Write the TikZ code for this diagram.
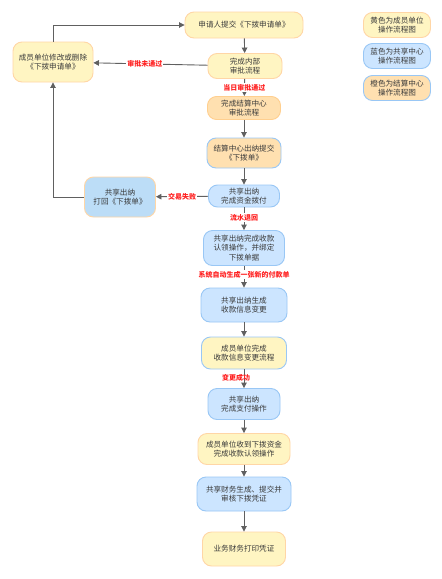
\documentclass[tikz,border=0pt]{standalone}
\usepackage{fontspec}
\newfontfamily\cjk{Noto Sans CJK SC}
\usetikzlibrary{arrows.meta}
\definecolor{yfill}{HTML}{FFF5C2}
\definecolor{ydraw}{HTML}{FFD6A6}
\definecolor{bfill}{HTML}{CCE5FF}
\definecolor{bdraw}{HTML}{99C7F5}
\definecolor{ofill}{HTML}{FFE0B0}
\definecolor{odraw}{HTML}{FFCF8F}
\definecolor{b2fill}{HTML}{BCDDF7}
\definecolor{lc}{HTML}{606060}
\definecolor{tc}{HTML}{3A3A3A}
\definecolor{rc}{HTML}{FF2020}
\tikzset{
  box/.style={rounded corners=9pt, line width=0.9pt, align=center, inner sep=0pt,
    font=\cjk\fontsize{7.6}{9.6}\selectfont, text=tc},
  ybox/.style={box, fill=yfill, draw=ydraw},
  bbox/.style={box, fill=bfill, draw=bdraw},
  obox/.style={box, fill=ofill, draw=odraw},
  obbox/.style={box, fill=ofill, draw=bdraw},
  ybbox/.style={box, fill=yfill, draw=bdraw},
  bobox/.style={box, fill=b2fill, draw=ydraw},
  conn/.style={draw=lc, line width=0.9pt, -{Triangle[length=5.5pt,width=5.5pt]}},
  lbl/.style={font=\cjk\fontsize{7}{8}\selectfont\bfseries, text=rc, fill=white, inner sep=1pt}
}
\begin{document}
\begin{tikzpicture}[x=1pt,y=-1pt]
\useasboundingbox[fill=white] (0,0) rectangle (442,579);
% nodes
\node[ybox, minimum width=118pt, minimum height=26pt] (n1) at (244,25) {申请人提交《下拨申请单》};
\node[ybox, minimum width=80pt, minimum height=40pt] (n2) at (53,62) {成员单位修改或删除\\《下拨申请单》};
\node[ybox, minimum width=74pt, minimum height=25pt] (n3) at (245,66) {完成内部\\审批流程};
\node[obox, minimum width=73pt, minimum height=23pt] (n4) at (244,108) {完成结算中心\\审批流程};
\node[obbox, minimum width=74pt, minimum height=30pt] (n5) at (244,153) {结算中心出纳提交\\《下拨单》};
\node[bbox, minimum width=71pt, minimum height=22pt] (n6) at (244,196) {共享出纳\\完成资金拨付};
\node[bobox, minimum width=71pt, minimum height=40pt] (n7) at (120,197) {共享出纳\\打回《下拨单》};
\node[bbox, minimum width=81pt, minimum height=35pt] (n8) at (244,248) {共享出纳完成收款\\认领操作，并绑定\\下拨单据};
\node[bbox, minimum width=86pt, minimum height=34pt] (n9) at (244,305) {共享出纳生成\\收款信息变更};
\node[ybbox, minimum width=85pt, minimum height=32pt] (n10) at (244,353) {成员单位完成\\收款信息变更流程};
\node[bbox, minimum width=72pt, minimum height=31pt] (n11) at (244,404) {共享出纳\\完成支付操作};
\node[ybox, minimum width=92pt, minimum height=31pt] (n12) at (244,449) {成员单位收到下拨资金\\完成收款认领操作};
\node[bbox, minimum width=94pt, minimum height=34pt] (n13) at (244,494) {共享财务生成、提交并\\审核下拨凭证};
\node[ybox, minimum width=83pt, minimum height=34pt] (n14) at (244,549) {业务财务打印凭证};
% legend
\node[ybox, minimum width=67pt, minimum height=25pt] (l1) at (397,25) {黄色为成员单位\\操作流程图};
\node[bbox, minimum width=67pt, minimum height=25pt] (l2) at (397,56) {蓝色为共享中心\\操作流程图};
\node[obbox, minimum width=67pt, minimum height=25pt] (l3) at (397,88) {橙色为结算中心\\操作流程图};
% connectors
\draw[conn] (n1) -- (n3);
\draw[conn] (n3) -- node[lbl, pos=0.55] {审批未通过} (n2);
\draw[conn] (n3) -- node[lbl, pos=0.5] {当日审批通过} (n4);
\draw[conn] (n4) -- (n5);
\draw[conn] (n5) -- (n6);
\draw[conn] (n6) -- node[lbl, pos=0.5] {交易失败} (n7);
\draw[conn] (n7.west) -- (n2.south |- n7.west) -- (n2.south);
\draw[conn] (n2.north) -- (n2.north |- n1.west) -- (n1.west);
\draw[conn] (n6) -- node[lbl, pos=0.45] {流水退回} (n8);
\draw[conn] (n8) -- node[lbl, pos=0.4] {系统自动生成一张新的付款单} (n9);
\draw[conn] (n9) -- (n10);
\draw[conn] (n10) -- node[lbl, pos=0.45, xshift=-8pt, fill=none] {变更成功} (n11);
\draw[conn] (n11) -- (n12);
\draw[conn] (n12) -- (n13);
\draw[conn] (n13) -- (n14);
\end{tikzpicture}
\end{document}
